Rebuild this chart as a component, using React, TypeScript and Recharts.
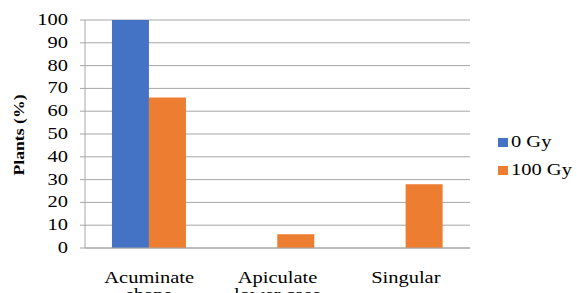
import React from "react";
import { BarChart, Bar, XAxis, YAxis, CartesianGrid } from "recharts";

const categories = ["Acuminate shape", "Apiculate lower case", "Singular"];
const categoryLines = [["Acuminate", "shape"], ["Apiculate", "lower case"], ["Singular"]];
const gy0 = [100, 0, 0];
const gy100 = [66, 6, 28];
const yTicks = [0, 10, 20, 30, 40, 50, 60, 70, 80, 90, 100];
const seriesNames = ["0 Gy", "100 Gy"];
const seriesColors = ["#4472C4", "#ED7D31"];
const yLabel = "Plants (%)";

const data = categories.map((c, i) => ({ name: c, g0: gy0[i], g100: gy100[i] }));

const FONT = "'Liberation Serif', 'Times New Roman', serif";
const SX = 1.28;

const XTick = (props: any) => {
  const { x, y, payload } = props;
  const lines = categoryLines[payload.index] || [payload.value];
  return (
    <g transform={`translate(${x},${y}) scale(${SX},1)`}>
      <text x={0} y={0} textAnchor="middle" fontFamily={FONT} fontSize={16} fill="#000">
        {lines.map((l: string, i: number) => (
          <tspan key={i} x={0} dy={i === 0 ? 27 : 17}>{l}</tspan>
        ))}
      </text>
    </g>
  );
};

const YTick = (props: any) => {
  const { x, y, payload } = props;
  return (
    <g transform={`translate(${x},${y}) scale(${SX},1)`}>
      <text x={0} y={0} dy={5} textAnchor="end" fontFamily={FONT} fontSize={16} fill="#000">
        {payload.value}
      </text>
    </g>
  );
};

export default function App() {
  return (
    <div style={{ position: "absolute", left: 0, top: 0, width: 577, height: 293, background: "#fff", fontFamily: FONT }}>
      <BarChart
        width={577}
        height={293}
        data={data}
        margin={{ top: 20, right: 107, bottom: 0, left: 0 }}
        barCategoryGap="21%"
        barGap={0}
      >
        <CartesianGrid horizontal vertical={false} stroke="#a6a6a6" />
        <XAxis
          dataKey="name"
          height={45}
          tick={<XTick />}
          tickLine={false}
          axisLine={{ stroke: "#a6a6a6" }}
          interval={0}
        />
        <YAxis
          width={85}
          domain={[0, 100]}
          ticks={yTicks}
          interval={0}
          tickSize={5}
          tickMargin={12}
          tickLine={{ stroke: "#a6a6a6" }}
          axisLine={{ stroke: "#a6a6a6" }}
          tick={<YTick />}
        />
        <Bar dataKey="g0" name={seriesNames[0]} fill={seriesColors[0]} isAnimationActive={false} />
        <Bar dataKey="g100" name={seriesNames[1]} fill={seriesColors[1]} isAnimationActive={false} />
      </BarChart>
      <svg width={577} height={293} style={{ position: "absolute", left: 0, top: 0, pointerEvents: "none" }}>
        <g transform="translate(24,135) rotate(-90) scale(1.18,1)">
          <text x={0} y={0} textAnchor="middle" fontFamily={FONT} fontSize={15} fontWeight="bold" fill="#000">
            {yLabel}
          </text>
        </g>
      </svg>
      <div style={{ position: "absolute", left: 498, top: 128, fontFamily: FONT, fontSize: 16, color: "#000" }}>
        {seriesNames.map((label, i) => (
          <div key={label} style={{ display: "flex", alignItems: "center", height: 28 }}>
            <span style={{ display: "inline-block", width: 10, height: 9, background: seriesColors[i], marginRight: 3 }} />
            <span style={{ display: "inline-block", transform: `scaleX(${SX})`, transformOrigin: "left center", whiteSpace: "nowrap" }}>{label}</span>
          </div>
        ))}
      </div>
    </div>
  );
}
